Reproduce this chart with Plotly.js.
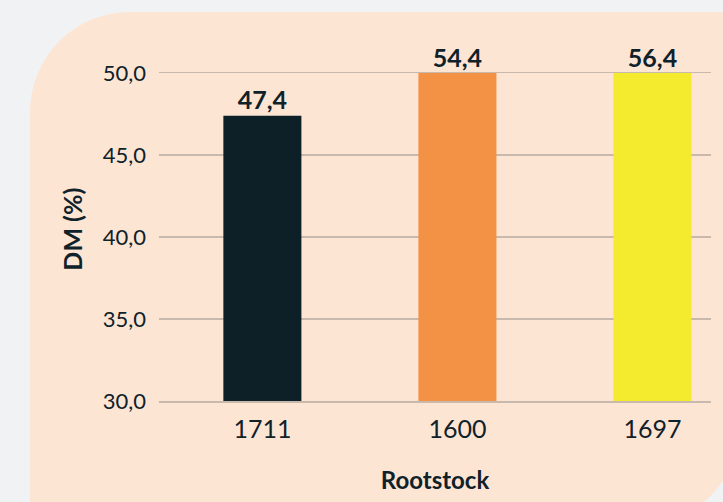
<!DOCTYPE html>
<html><head><meta charset="utf-8">
<script src="https://cdn.plot.ly/plotly-3.0.1.min.js"></script>
<style>
html,body{margin:0;padding:0;background:#f0f2f4;overflow:hidden;}
#bg{position:absolute;left:30px;top:12px;width:710px;height:513px;background:#fde5d4;border-radius:100px 0 100px 0;}
#chart{position:absolute;left:0;top:0;width:723px;height:502px;}
</style></head>
<body><div id="bg"></div><div id="chart"></div>
<script>
var categories = ['1711', '1600', '1697'];
var dmValues = [47.4, 54.4, 56.4];
var barColors = ['#0d1f27', '#f39244', '#f4eb2f'];
var yTicks = [30, 35, 40, 45, 50];
var yMin = 30, yMax = 50;

function fmt(v){ return v.toFixed(1).replace('.', ','); }

var bars = {
  type: 'bar', x: categories, y: dmValues,
  marker: {color: barColors},
  width: 0.4, hoverinfo: 'none'
};
var labels = {
  type: 'scatter', mode: 'text', x: categories,
  y: dmValues.map(function(v){ return Math.min(v, yMax); }),
  text: dmValues.map(function(v){ return '<b>' + fmt(v) + '</b>'; }),
  textposition: 'top center', cliponaxis: false,
  textfont: {family: 'Lato', size: 25, color: '#0f2129'},
  hoverinfo: 'none'
};
var gridColor = '#c9b9ac';
var layout = {
  width: 723, height: 502,
  margin: {l: 159, r: 12, t: 73, b: 101, pad: 0},
  paper_bgcolor: 'rgba(0,0,0,0)', plot_bgcolor: 'rgba(0,0,0,0)',
  font: {family: 'Lato', size: 22, color: '#0f2129'},
  showlegend: false,
  xaxis: {type: 'category', range: [-0.53, 2.3], showgrid: false, zeroline: false,
    showline: true, mirror: true, linecolor: gridColor, linewidth: 1.5,
    ticks: '', ticklabelstandoff: 5, tickfont: {size: 25},
    title: {text: '<b>Rootstock</b>', font: {size: 24}, standoff: 30}},
  yaxis: {range: [yMin, yMax], tickvals: yTicks, ticktext: yTicks.map(fmt),
    showgrid: true, gridcolor: gridColor, gridwidth: 1.5, zeroline: false,
    ticks: '', ticklabelstandoff: 12, tickfont: {size: 22}},
  annotations: [{xref: 'paper', yref: 'paper', x: -0.1567, y: 0.524,
    xanchor: 'center', yanchor: 'middle', textangle: -90, showarrow: false,
    text: '<b>DM (%)</b>', font: {family: 'Lato', size: 25, color: '#0f2129'}}]
};
Plotly.newPlot('chart', [bars, labels], layout, {staticPlot: true});
</script></body></html>
